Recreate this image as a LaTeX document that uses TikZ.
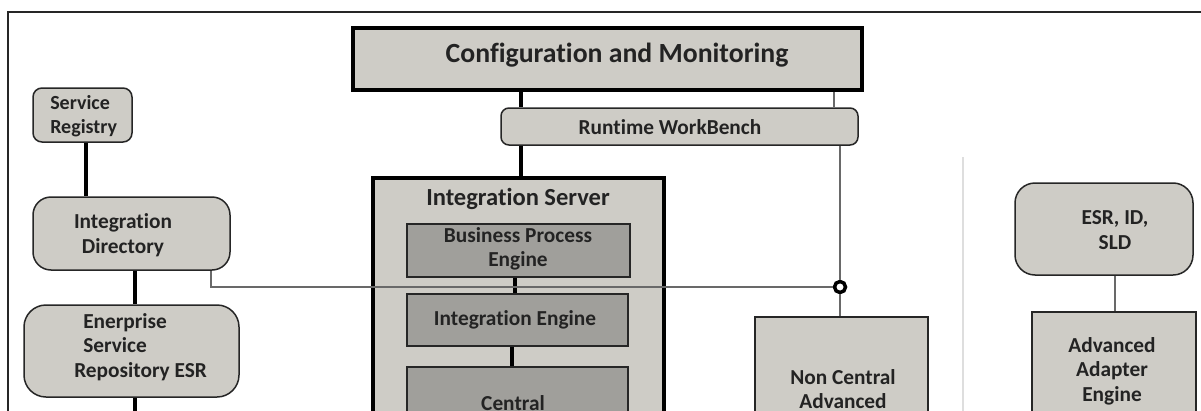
\documentclass[tikz,border=0pt]{standalone}
\usepackage{fontspec}
\setmainfont{Carlito}[Ligatures=NoCommon]
\usetikzlibrary{fit}
\definecolor{lightfill}{RGB}{206,204,198}
\definecolor{darkfill}{RGB}{160,159,155}
\definecolor{thinline}{RGB}{105,105,105}
\definecolor{divider}{RGB}{222,222,222}
\definecolor{txt}{RGB}{35,35,35}
\def\px{0.75pt}
\begin{document}
\begin{tikzpicture}[x=0.75pt,y=-0.75pt,
  lbox/.style={inner sep=0pt, draw=black!85, line width=1.5*\px, fill=lightfill},
  hbox/.style={inner sep=0pt, draw=black, line width=4*\px, fill=lightfill},
  dbox/.style={inner sep=0pt, draw=black!85, line width=1.5*\px, fill=darkfill},
  thickc/.style={draw=black, line width=4*\px},
  thinc/.style={draw=thinline, line width=2*\px},
  lbl/.style={inner sep=0pt, text=txt, align=center, font=\bfseries\fontsize{16}{18.4}\selectfont},
]
\useasboundingbox (0,0) rectangle (1201,410);
\clip (0,0) rectangle (1201,410);
\fill[white] (0,0) rectangle (1201,410);
% outer frame
\node[fit={(8,12) (1240,450)}, inner sep=0pt, draw=black!85, line width=1.5*\px] (frame) {};
% divider
\draw[draw=divider, line width=2*\px] (963,157) -- (963,450);
% boxes
\node[hbox, fit={(353,28) (862,90)}] (cm) {};
\node[lbox, rounded corners=8*\px, fit={(501,108) (858,145)}] (wb) {};
\node[hbox, fit={(373,178) (664,450)}] (is) {};
\node[dbox, fit={(407,224) (630,277)}] (bpe) {};
\node[dbox, fit={(407,294) (628,346)}] (ie) {};
\node[dbox, fit={(407,367) (628,450)}] (cen) {};
\node[lbox, rounded corners=9*\px, fit={(33,88) (132,142)}] (sr) {};
\node[lbox, rounded corners=18*\px, fit={(33,197) (230,270)}] (id) {};
\node[lbox, rounded corners=22*\px, fit={(24,305) (239,397)}] (esr) {};
\node[lbox, fit={(755,317) (928,450)}] (nca) {};
\node[lbox, rounded corners=20*\px, fit={(1015,183) (1193,275)}] (eis) {};
\node[lbox, fit={(1032,312) (1196,450)}] (aae) {};
% connectors
\coordinate (xa) at (521,0);
\draw[thickc] (cm.south -| xa) -- (wb.north -| xa);
\draw[thickc] (wb.south -| xa) -- (is.north -| xa);
\coordinate (xb) at (834,0);
\draw[thinc] (cm.south -| xb) -- (wb.north -| xb);
\coordinate (xd) at (515,0);
\draw[thickc] (bpe.south -| xd) -- (ie.north -| xd);
\coordinate (xe) at (512,0);
\draw[thickc] (ie.south -| xe) -- (cen.north -| xe);
\coordinate (xf) at (86,0);
\draw[thickc] (sr.south -| xf) -- (id.north -| xf);
\coordinate (xg) at (135,0);
\draw[thickc] (id.south -| xg) -- (esr.north -| xg);
\coordinate (esrend) at (135,450);
\draw[thickc] (esr.south -| xg) -- (esrend);
\coordinate (xh) at (1115,0);
\draw[thinc] (eis.south -| xh) -- (aae.north -| xh);
\node[circle, draw=black, line width=3.5*\px, fill=white, minimum size=11*\px, inner sep=0pt] (hub) at (840,287) {};
\coordinate (xc) at (211,0);
\draw[thinc] (id.south -| xc) |- (hub.west);
\draw[thinc] (wb.south -| hub) -- (hub.north);
\draw[thinc] (hub.south) -- (nca.north -| hub);
% texts
\node[lbl, font=\bfseries\fontsize{20.8}{24}\selectfont] (cmT) at (617,55) {Configuration and Monitoring};
\node[lbl] (wbT) at (670,127) {Runtime WorkBench};
\node[lbl, font=\bfseries\fontsize{18.4}{21}\selectfont] (isT) at (518,199) {Integration Server};
\node[lbl] (bpeT) at (518,249) {Business Process\\Engine};
\node[lbl] (ieT) at (515,320) {Integration Engine};
\node[lbl] (cenT) at (513,403) {Central};
\node[lbl, align=left, font=\bfseries\fontsize{15}{18.4}\selectfont, anchor=west] (srT) at (50,116) {Service\\Registry};
\node[lbl] (idT) at (123,235) {Integration\\Directory};
\node[lbl, align=left, anchor=west] (esrT) at (74,347) {\hspace*{6.75pt}Enerprise\\\hspace*{6.75pt}Service\\Repository ESR};
\node[lbl] (ncaT) at (843,389) {Non Central\\Advanced};
\node[lbl] (eisT) at (1115,230) {ESR, ID,\\SLD};
\node[lbl] (aaeT) at (1112,371) {Advanced\\Adapter\\Engine};
\end{tikzpicture}
\end{document}
